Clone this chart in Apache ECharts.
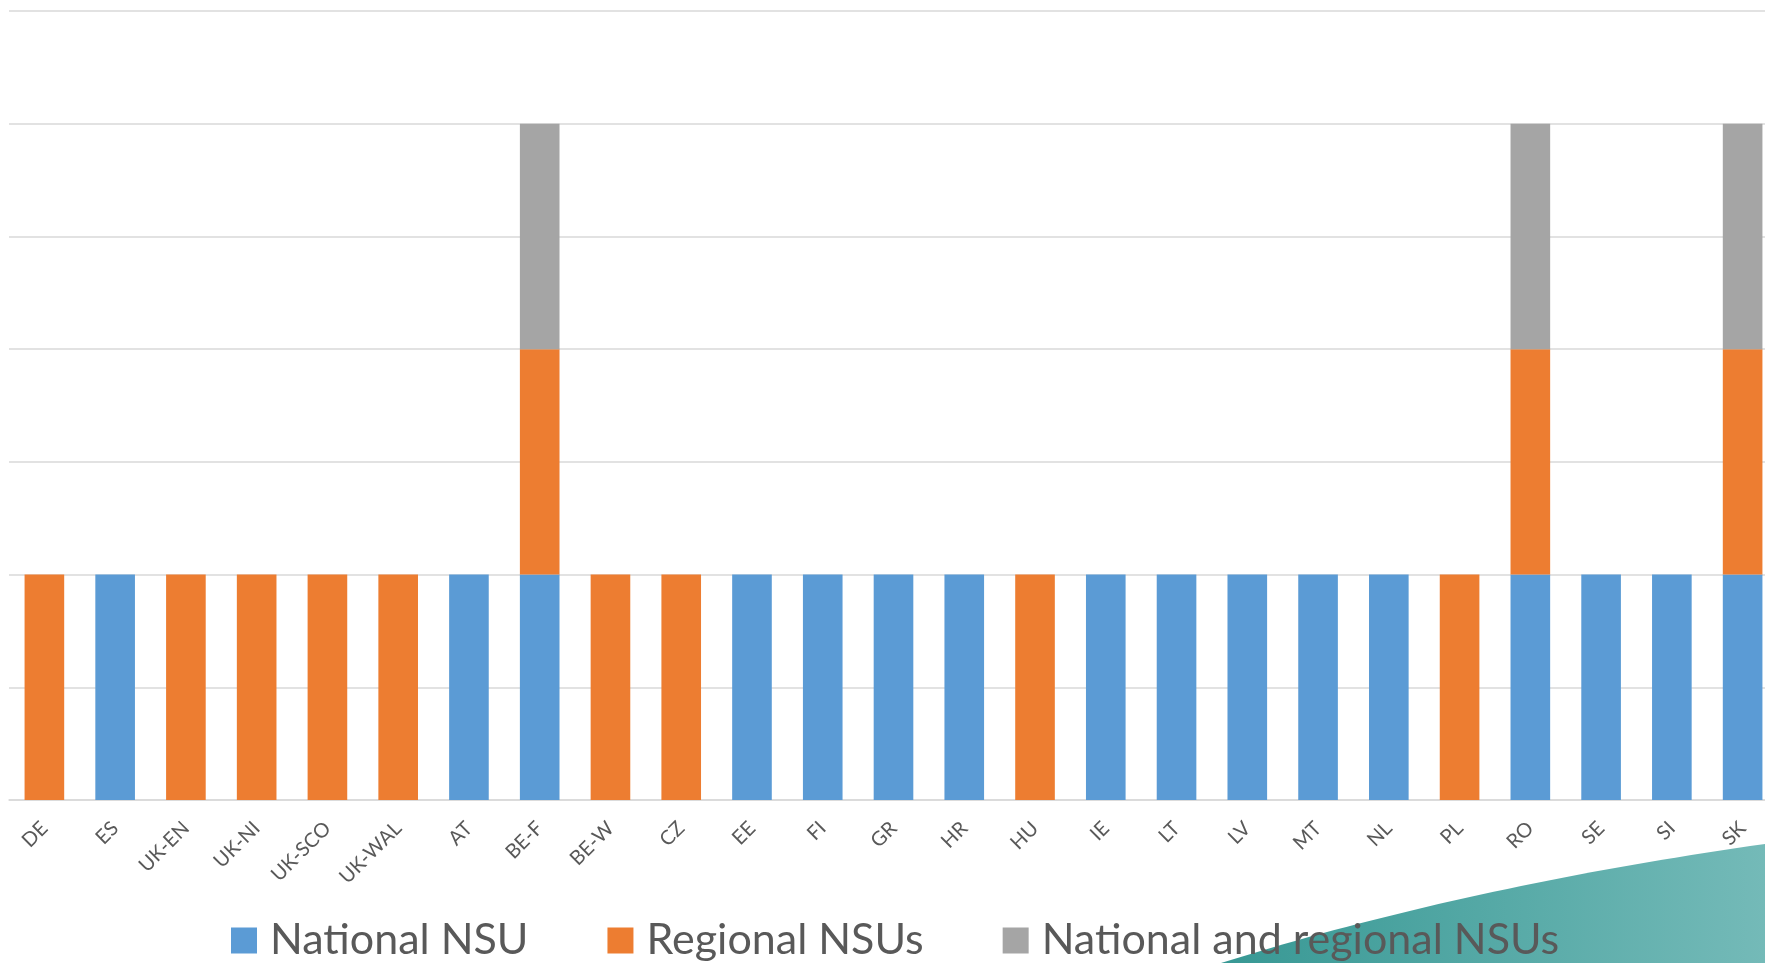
<!DOCTYPE html>
<html>
<head>
<meta charset="utf-8">
<script src="https://cdn.jsdelivr.net/npm/echarts@6/dist/echarts.min.js"></script>
<style>
html,body{margin:0;padding:0;background:#fff;}
#chart{width:1765px;height:963px;}
</style>
</head>
<body>
<div id="chart"></div>
<script>
const categories = ['DE','ES','UK-EN','UK-NI','UK-SCO','UK-WAL','AT','BE-F','BE-W','CZ','EE','FI','GR','HR','HU','IE','LT','LV','MT','NL','PL','RO','SE','SI','SK'];
const nationalNSU = [0,1,0,0,0,0,1,1,0,0,1,1,1,1,0,1,1,1,1,1,0,1,1,1,1];
const regionalNSUs = [1,0,1,1,1,1,0,1,1,1,0,0,0,0,1,0,0,0,0,0,1,1,0,0,1];
const bothNSUs = [0,0,0,0,0,0,0,1,0,0,0,0,0,0,0,0,0,0,0,0,0,1,0,0,1];
const seriesNames = ['National NSU','Regional NSUs','National and regional NSUs'];

// decorative background wave (quadratic curve)
function wavePoints() {
  const p0 = [1221, 963], c = [1467, 886], p2 = [1765, 844];
  const pts = [];
  for (let i = 0; i <= 40; i++) {
    const t = i / 40, u = 1 - t;
    pts.push([u*u*p0[0] + 2*u*t*c[0] + t*t*p2[0], u*u*p0[1] + 2*u*t*c[1] + t*t*p2[1]]);
  }
  pts.push([1765, 963]);
  return pts;
}

const chart = echarts.init(document.getElementById('chart'));
const font = 'Lato, "Open Sans", sans-serif';
chart.setOption({
  animation: false,
  backgroundColor: '#ffffff',
  graphic: [{
    type: 'polygon',
    z: -10,
    silent: true,
    shape: { points: wavePoints() },
    style: {
      fill: {
        type: 'linear', x: 0, y: 0, x2: 1, y2: 0,
        colorStops: [
          { offset: 0, color: '#379894' },
          { offset: 1, color: '#74bab8' }
        ]
      }
    }
  }],
  grid: { left: 9, width: 1769, top: 11, bottom: 163, containLabel: false, outerBoundsMode: 'none' },
  legend: {
    data: seriesNames,
    left: 226,
    top: 914,
    z: 20,
    icon: 'rect',
    itemWidth: 26,
    itemHeight: 26,
    itemGap: 79,
    textStyle: { fontSize: 43, color: '#595959', fontFamily: font, padding: [0, 0, 0, 8] }
  },
  xAxis: {
    type: 'category',
    data: categories,
    axisTick: { show: false },
    axisLine: { lineStyle: { color: '#d9d9d9', width: 1.5 } },
    axisLabel: { rotate: 45, margin: 25, fontSize: 20, color: '#595959', fontFamily: font, interval: 0 }
  },
  yAxis: {
    type: 'value',
    min: 0, max: 3.5, interval: 0.5,
    axisLabel: { show: false },
    axisLine: { show: false },
    axisTick: { show: false },
    splitLine: { lineStyle: { color: '#d9d9d9', width: 1.5 } }
  },
  series: [
    { name: seriesNames[0], type: 'bar', stack: 'a', data: nationalNSU, barCategoryGap: '44%', itemStyle: { color: '#5B9BD5' } },
    { name: seriesNames[1], type: 'bar', stack: 'a', data: regionalNSUs, itemStyle: { color: '#ED7D31' } },
    { name: seriesNames[2], type: 'bar', stack: 'a', data: bothNSUs, itemStyle: { color: '#A5A5A5' } }
  ]
});
</script>
</body>
</html>
